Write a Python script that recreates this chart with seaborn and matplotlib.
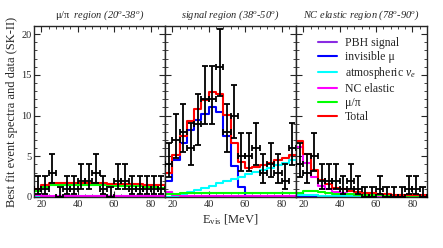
import numpy as np
import pandas as pd
import matplotlib
matplotlib.use("Agg")
import matplotlib.pyplot as plt
from matplotlib.ticker import MultipleLocator
from matplotlib.lines import Line2D
import seaborn as sns

# energy binning (MeV)
edges = np.arange(16, 89, 4)
centers = edges[:-1] + 2

# best fit MC components, per region (events / 4 MeV bin)
pbh_l = [0.0] * 18
inv_mu_l = [0.02, 0.02, 0.02, 0.02, 0.01, 0.01, 0.01, 0.01, 0.01, 0.0, 0.0, 0.0, 0.0, 0.0, 0.0, 0.0, 0.0, 0.0]
atm_nue_l = [0.02, 0.03, 0.04, 0.05, 0.06, 0.07, 0.08, 0.09, 0.1, 0.1, 0.11, 0.12, 0.12, 0.13, 0.13, 0.14, 0.14, 0.15]
nc_el_l = [0.18, 0.16, 0.15, 0.15, 0.14, 0.14, 0.14, 0.13, 0.13, 0.13, 0.12, 0.12, 0.12, 0.12, 0.12, 0.11, 0.11, 0.11]
mupi_l = [0.75, 1.25, 1.45, 1.5, 1.5, 1.5, 1.5, 1.48, 1.45, 1.42, 1.4, 1.38, 1.35, 1.32, 1.3, 1.27, 1.22, 1.15]

pbh_m = [0.0] * 18
inv_mu_m = [2.0, 4.5, 6.6, 8.2, 9.4, 10.2, 11.0, 10.4, 7.5, 3.8, 1.2, 0.1, 0.0, 0.0, 0.0, 0.0, 0.0, 0.0]
atm_nue_m = [0.0, 0.1, 0.35, 0.6, 0.9, 1.15, 1.4, 1.7, 1.95, 2.25, 2.5, 2.8, 3.05, 3.35, 3.6, 3.9, 4.2, 4.5]
nc_el_m = [0.6, 0.2, 0.1, 0.1, 0.1, 0.1, 0.1, 0.1, 0.1, 0.1, 0.1, 0.1, 0.1, 0.1, 0.1, 0.1, 0.1, 0.1]
mupi_m = [0.35, 0.4, 0.42, 0.45, 0.45, 0.45, 0.45, 0.45, 0.5, 0.5, 0.5, 0.5, 0.5, 0.5, 0.5, 0.5, 0.5, 0.5]

pbh_r = [0.0] * 18
inv_mu_r = [0.1, 0.05, 0.02, 0.0, 0.0, 0.0, 0.0, 0.0, 0.0, 0.0, 0.0, 0.0, 0.0, 0.0, 0.0, 0.0, 0.0, 0.0]
atm_nue_r = [0.25, 0.25, 0.2, 0.15, 0.12, 0.1, 0.08, 0.07, 0.06, 0.05, 0.05, 0.04, 0.04, 0.03, 0.03, 0.03, 0.02, 0.02]
nc_el_r = [6.1, 4.2, 2.4, 1.35, 1.0, 0.6, 0.5, 0.35, 0.28, 0.22, 0.18, 0.15, 0.12, 0.1, 0.1, 0.08, 0.08, 0.07]
mupi_r = [0.45, 0.75, 0.7, 0.6, 0.5, 0.4, 0.35, 0.3, 0.25, 0.22, 0.2, 0.18, 0.16, 0.15, 0.14, 0.13, 0.12, 0.12]

# observed events
data_l = [1, 1, 3, 0, 1, 1, 2, 2, 3, 1, 0, 2, 2, 1, 1, 1, 1, 1]
data_m = [4, 7, 8, 6, 9, 12, 12, 16, 8, 10, 5, 5, 6, 3, 4, 3, 2, 6]
data_r = [4, 3, 5, 2, 2, 2, 1, 2, 1, 0, 0, 1, 0, 0, 0, 1, 1, 0]

titles = [r"$\mathrm{\mu/\pi}$  region (20$^o$-38$^o$)",
          r"signal region (38$^o$-50$^o$)",
          r"NC elastic region (78$^o$-90$^o$)"]

labels = ["PBH signal", "invisible \u03bc", r"atmospheric $\nu_e$", "NC elastic", "\u03bc/\u03c0", "Total"]
colors = {"PBH signal": "#8a2be2", "invisible \u03bc": "#0000ff", r"atmospheric $\nu_e$": "#00ffff",
          "NC elastic": "#ff00ff", "\u03bc/\u03c0": "#00ff00", "Total": "#ff0000"}

regions = [
    (pbh_l, inv_mu_l, atm_nue_l, nc_el_l, mupi_l, data_l),
    (pbh_m, inv_mu_m, atm_nue_m, nc_el_m, mupi_m, data_m),
    (pbh_r, inv_mu_r, atm_nue_r, nc_el_r, mupi_r, data_r),
]

sns.set_theme(style="ticks")
plt.rcParams["font.family"] = ["Liberation Serif", "DejaVu Serif"]
plt.rcParams["mathtext.fontset"] = "custom"
plt.rcParams["mathtext.rm"] = "Liberation Serif"
plt.rcParams["mathtext.it"] = "Liberation Serif:italic"

fig, axes = plt.subplots(1, 3, figsize=(4.43, 2.48), dpi=100, sharey=True)
fig.subplots_adjust(left=0.077, right=0.964, top=0.895, bottom=0.206, wspace=0)

for ax, reg, title in zip(axes, regions, titles):
    comps = [np.array(c, dtype=float) for c in reg[:5]]
    total = np.sum(comps, axis=0)
    rows = []
    for lab, vals in zip(labels, comps + [total]):
        yy = np.append(vals, vals[-1])
        for e, v in zip(edges, yy):
            rows.append({"E": e, "events": v, "component": lab})
    df = pd.DataFrame(rows)
    sns.lineplot(data=df, x="E", y="events", hue="component", hue_order=labels,
                 palette=colors, drawstyle="steps-post", estimator=None, sort=False,
                 linewidth=1.5, legend=False, ax=ax)

    n = np.array(reg[5], dtype=float)
    lo = np.where(n > 0, np.sqrt(n) - 0.4, 0.0)
    hi = np.where(n > 0, np.sqrt(n) + 0.6, 1.2)
    ax.errorbar(centers, n, yerr=[lo, hi], xerr=2, fmt="none", ecolor="black",
                elinewidth=1.3, capsize=2.5, capthick=1.3, zorder=5)

    ax.set_xlim(16, 88)
    ax.set_ylim(0, 21)
    ax.set_xlabel("")
    ax.set_ylabel("")
    ax.xaxis.set_major_locator(MultipleLocator(20))
    ax.xaxis.set_minor_locator(MultipleLocator(4))
    ax.yaxis.set_major_locator(MultipleLocator(5))
    ax.yaxis.set_minor_locator(MultipleLocator(1))
    ax.tick_params(which="both", direction="in", top=True, right=True, labelsize=7.5, pad=2)
    ax.tick_params(which="major", length=4, width=0.8)
    ax.tick_params(which="minor", length=2, width=0.6)
    for s in ax.spines.values():
        s.set_linewidth(1.0)
    ax.set_title(title, fontsize=7.5, style="italic", pad=6)

axes[0].set_ylabel("Best fit event spectra and data (SK-II)", fontsize=9, labelpad=2)
axes[1].set_xlabel(r"E$_{\mathrm{vis}}$ [MeV]", fontsize=9, labelpad=3)

handles = [Line2D([], [], color=colors[l], lw=1.5) for l in labels]
axes[2].legend(handles, labels, loc="upper left", bbox_to_anchor=(0.13, 0.965), frameon=False,
               fontsize=8.5, handlelength=1.6, handletextpad=0.7, labelspacing=0.18,
               borderaxespad=0)

fig.savefig("out.png", dpi=100)
